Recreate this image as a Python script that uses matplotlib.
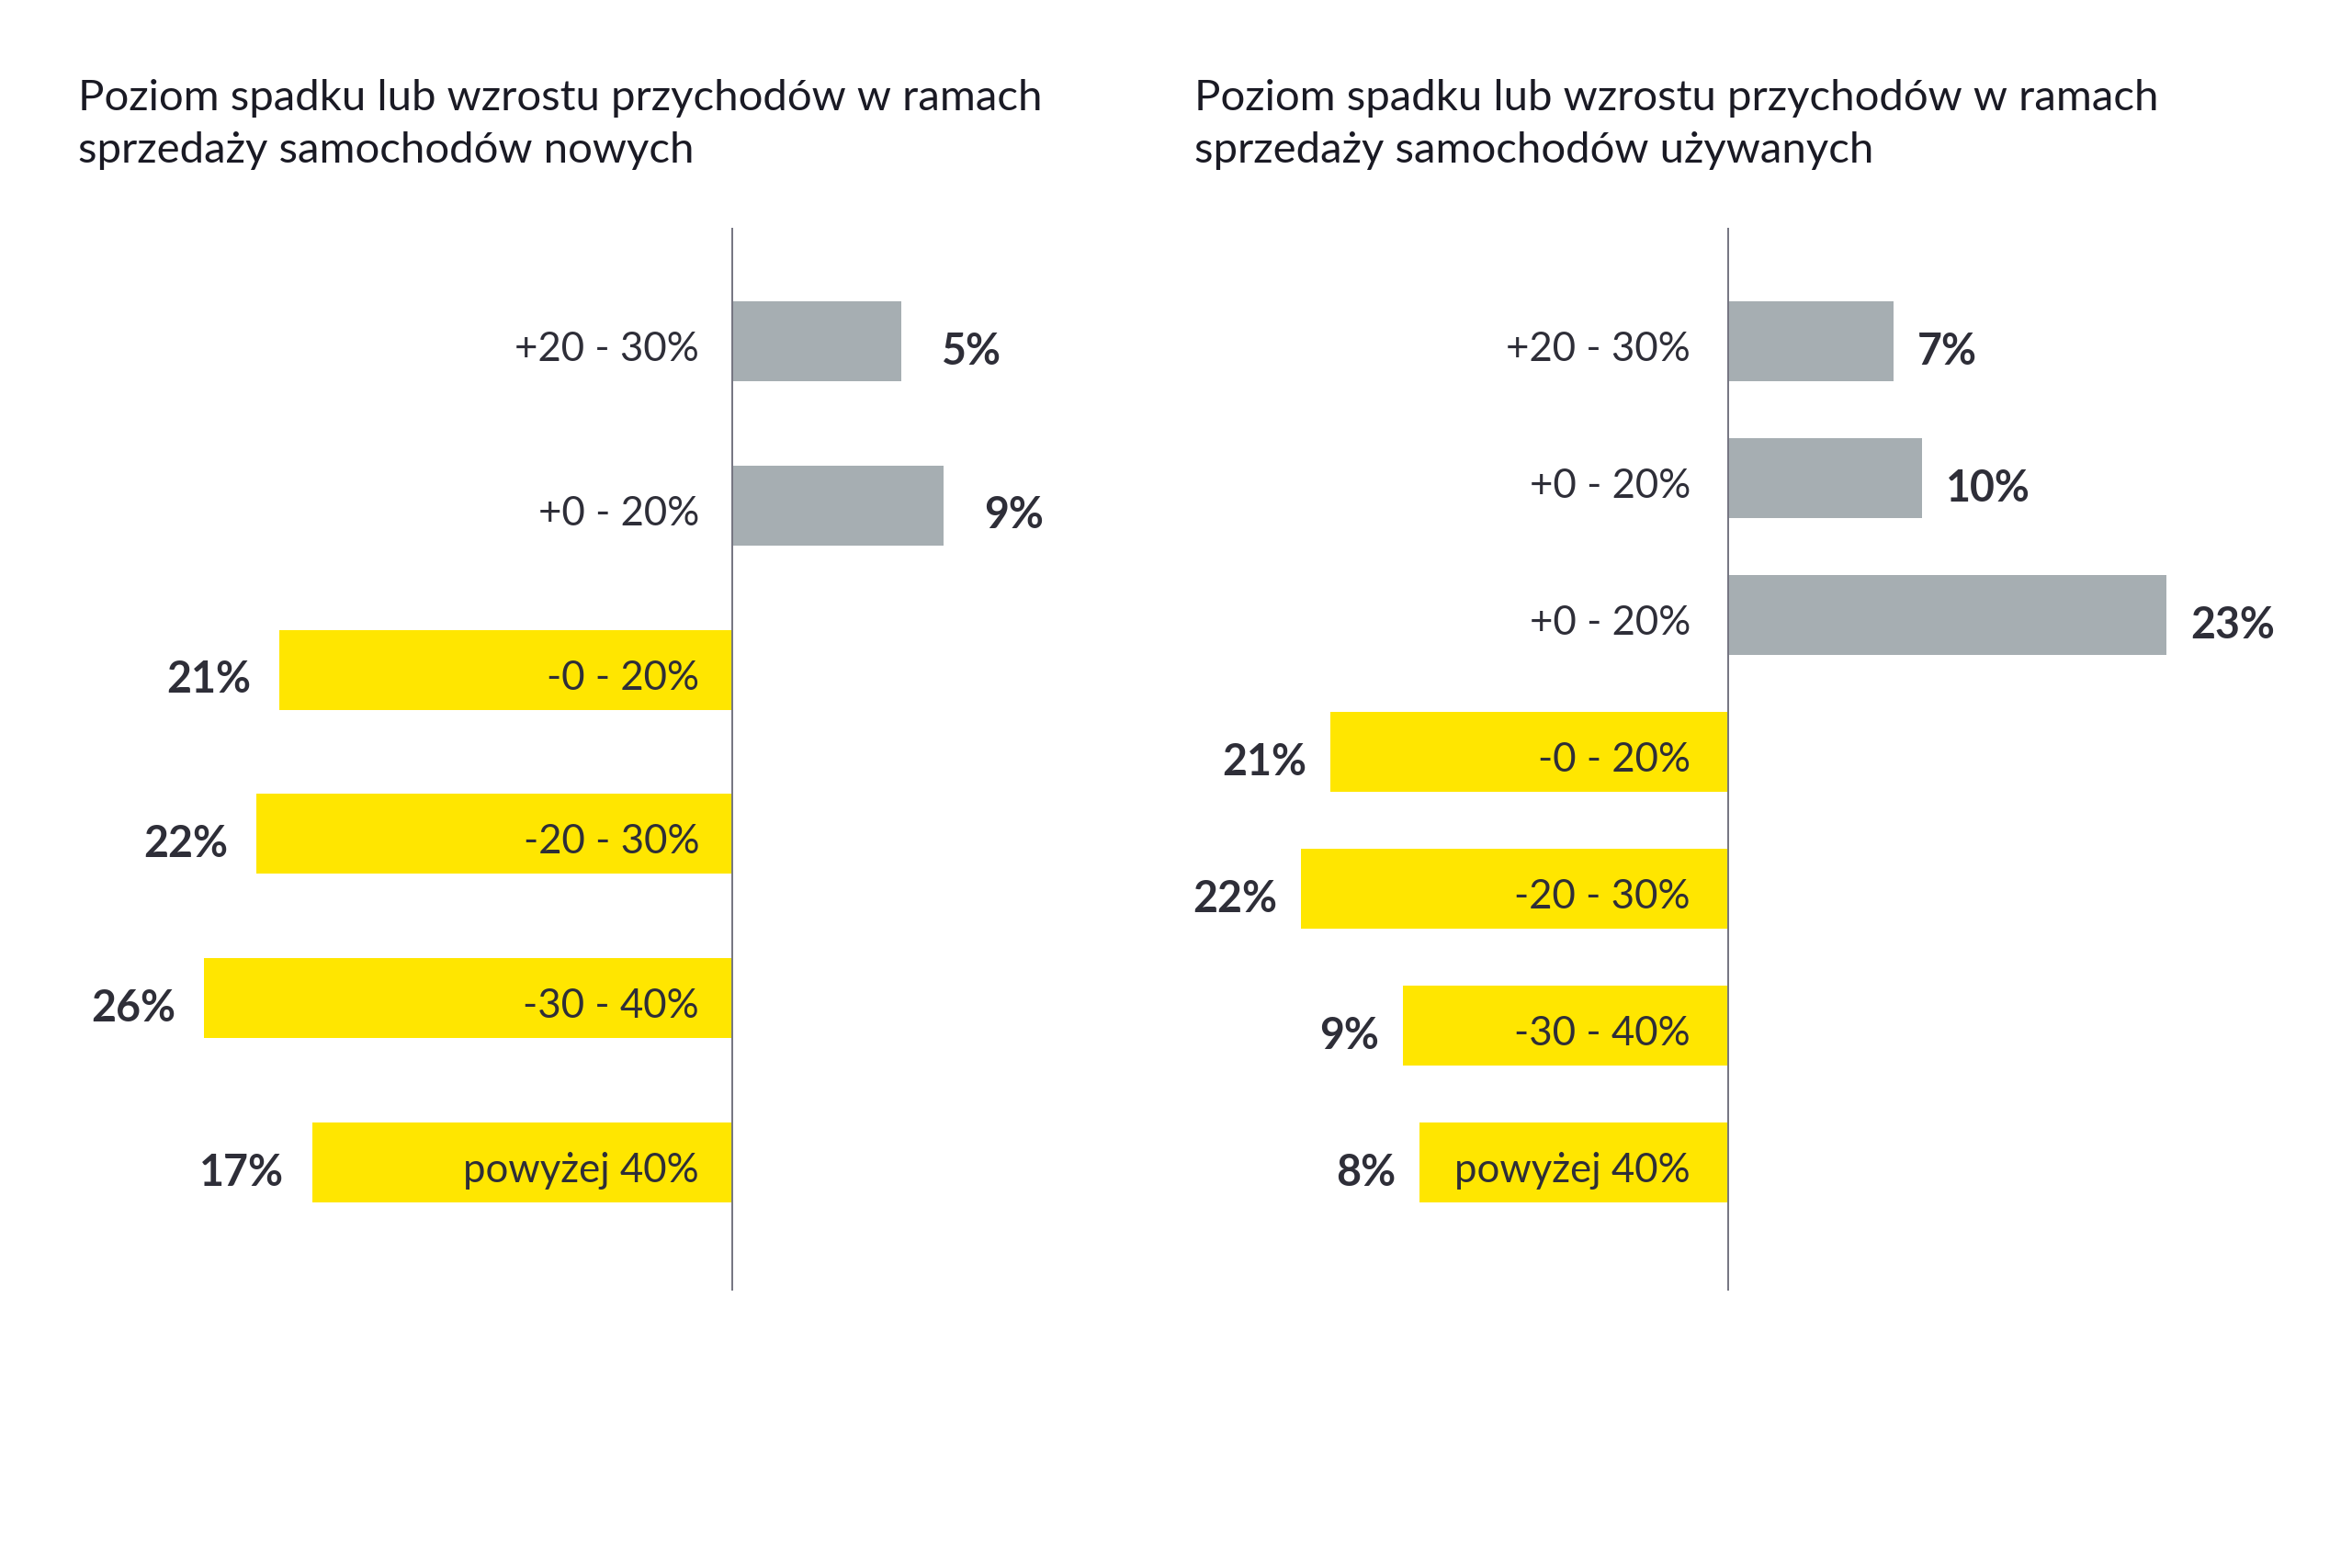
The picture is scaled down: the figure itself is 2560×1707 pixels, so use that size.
import matplotlib
matplotlib.use('Agg')
import matplotlib.pyplot as plt

# values printed on the chart (share of answers, %)
new_cats = ['+20 - 30%', '+0 - 20%', '-0 - 20%', '-20 - 30%', '-30 - 40%', 'powyżej 40%']
new_vals = [5, 9, 21, 22, 26, 17]
# drawn bar lengths as measured on the reference (chart units, sign = direction)
new_len = [184, 230, -493, -518, -575, -457]

used_cats = ['+20 - 30%', '+0 - 20%', '+0 - 20%', '-0 - 20%', '-20 - 30%', '-30 - 40%', 'powyżej 40%']
used_vals = [7, 10, 23, 21, 22, 9, 8]
used_len = [180, 211, 477, -433, -465, -354, -336]

titles = [
    ['Poziom spadku lub wzrostu przychodów w ramach', 'sprzedaży samochodów nowych'],
    ['Poziom spadku lub wzrostu przychodów w ramach', 'sprzedaży samochodów używanych'],
]

YELLOW = '#ffe600'
GREY = '#a6aeb2'
TXT = '#2e2e38'

plt.rcParams['font.family'] = ['Lato', 'DejaVu Sans']

W, H = 2560, 1707
fig = plt.figure(figsize=(W / 100, H / 100), dpi=100)
fig.patch.set_facecolor('white')


def panel(left_px, axis_px, top_idx, bot_idx, bar_h, step_px, cats, vals, lens,
          pos_pad, neg_pad, cat_pad):
    ax = fig.add_axes([left_px / W, 1 - 1405 / H, 0.5, (1405 - 248) / H])
    ax.set_xlim(left_px - axis_px, left_px + 1280 - axis_px)
    ax.set_ylim(bot_idx, top_idx)
    ax.axis('off')
    y = list(range(len(cats)))
    colors = [GREY if L > 0 else YELLOW for L in lens]
    ax.barh(y, lens, height=bar_h, color=colors, linewidth=0, zorder=1)
    ax.axvline(0, color='#747480', lw=1.4, zorder=3)
    cat_dy = 9 / step_px
    val_dy = 11 / step_px
    for yi, c, v, L in zip(y, cats, vals, lens):
        ax.text(-cat_pad, yi + cat_dy, c, ha='right', va='center', fontsize=31.5,
                color=TXT, zorder=4)
        if L > 0:
            ax.text(L + pos_pad, yi + val_dy, f'{v}%', ha='left', va='center',
                    fontsize=33.5, fontweight='bold', color=TXT)
        else:
            ax.text(L - neg_pad, yi + val_dy, f'{v}%', ha='right', va='center',
                    fontsize=33.5, fontweight='bold', color=TXT)
    return ax


panel(0, 797, -0.6907, 5.780, 0.4866, 178.8, new_cats, new_vals, new_len, 44, 31, 36)
panel(1280, 1881, -0.829, 6.936, 0.58, 149.0, used_cats, used_vals, used_len, 26, 26, 41)

for x0, lines in zip([85, 1300], titles):
    fig.text(x0 / W, 1 - 120 / H, lines[0], ha='left', va='baseline', fontsize=34, color='#1a1a24')
    fig.text(x0 / W, 1 - 177 / H, lines[1], ha='left', va='baseline', fontsize=34, color='#1a1a24')

fig.savefig('out.png', dpi=100, facecolor='white')
plt.close(fig)
